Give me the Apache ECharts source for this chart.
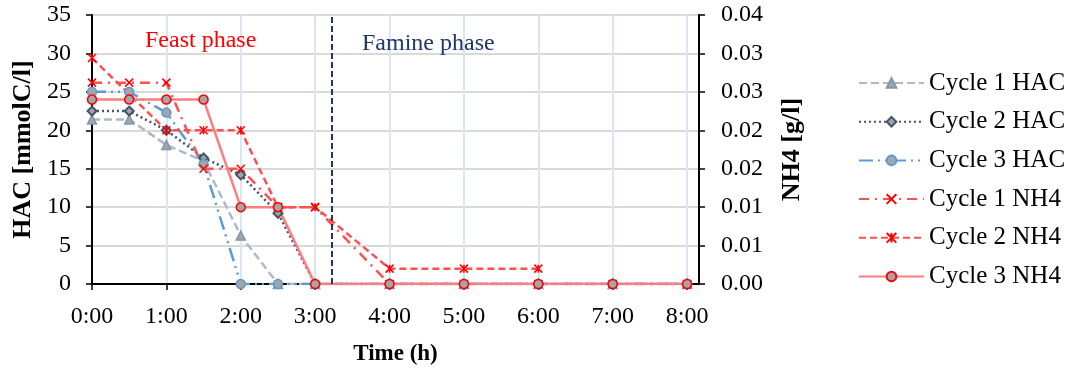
<!DOCTYPE html>
<html>
<head>
<meta charset="utf-8">
<script src="https://cdn.jsdelivr.net/npm/echarts@6/dist/echarts.min.js"></script>
<style>
html,body{margin:0;padding:0;background:#fff;}
#chart{width:1081px;height:375px;}
</style>
</head>
<body>
<div id="chart"></div>
<script>
// Time points (hours)
const times = [0, 0.5, 1, 1.5, 2, 2.5, 3, 4, 5, 6, 7, 8];
// HAC [mmolC/l]
const hacCycle1 = [21.4, 21.4, 18.1, 16.0, 6.3, 0, 0, 0, 0, 0, 0, 0];
const hacCycle2 = [22.5, 22.5, 20.0, 16.4, 14.2, 9.2, 0, 0, 0, 0, 0, 0];
const hacCycle3 = [25.0, 25.0, 22.3, 15.6, 0, 0, 0, 0, 0, 0, 0, 0];
// NH4 [g/l]
const nh4Cycle1 = [0.0262, 0.0262, 0.0262, 0.015, 0.015, 0.010, 0.010, 0, 0, 0, 0, 0];
const nh4Cycle2 = [0.0294, null, 0.020, 0.020, 0.020, 0.010, 0.010, 0.002, 0.002, 0.002, null, null];
const nh4Cycle3 = [0.024, 0.024, 0.024, 0.024, 0.010, 0.010, 0, 0, 0, 0, 0, 0];
// Phase boundary (hours)
const phaseBoundary = 3.22;
// Tick labels
const xTickLabels = ['0:00','1:00','2:00','3:00','4:00','5:00','6:00','7:00','8:00'];
const leftTickLabels = ['0','5','10','15','20','25','30','35'];
const rightTickLabels = ['0.00','0.01','0.01','0.02','0.02','0.03','0.03','0.04'];
const seriesNames = ['Cycle 1 HAC','Cycle 2 HAC','Cycle 3 HAC','Cycle 1 NH4','Cycle 2 NH4','Cycle 3 NH4'];

const FONT = 'Liberation Serif';
const pairs = arr => times.map((t, i) => [t, arr[i]]).filter(p => p[1] !== null);
const X_PATH = 'path://M0,0L10,10M10,0L0,10';
const AST_PATH = 'path://M0,0L10,10M10,0L0,10M5,0L5,10';

const chart = echarts.init(document.getElementById('chart'), null, {renderer: 'canvas'});
chart.setOption({
  animation: false,
  backgroundColor: '#fff',
  grid: {left: 92, right: 382, top: 15, bottom: 91, show: true, borderColor: '#000', borderWidth: 2, backgroundColor: 'transparent'},
  legend: {
    orient: 'vertical', left: 853, top: 65,
    itemWidth: 65, itemHeight: 12, itemGap: 12.7,
    textStyle: {fontFamily: FONT, fontSize: 25, color: '#000', lineHeight: 26, padding: [0,0,0,0]},
    data: seriesNames
  },
  graphic: [
    {type: 'text', z: 100, left: 145, top: 29, style: {text: 'Feast phase', font: '24px "Liberation Serif"', fill: '#ff0000'}},
    {type: 'text', z: 100, left: 362, top: 32, style: {text: 'Famine phase', font: '24px "Liberation Serif"', fill: '#1f3864'}}
  ],
  xAxis: {
    type: 'value', min: 0, max: 8.16, interval: 1,
    name: 'Time (h)', nameLocation: 'middle', nameGap: 59,
    nameTextStyle: {fontFamily: FONT, fontSize: 23, fontWeight: 'bold', color: '#000'},
    axisLine: {show: true, lineStyle: {color: '#000', width: 2}},
    axisTick: {show: true, length: 6, lineStyle: {color: '#000', width: 1.5}},
    axisLabel: {
      fontFamily: FONT, fontSize: 24, color: '#000', margin: 21, showMaxLabel: false,
      formatter: v => (Math.abs(v - Math.round(v)) < 1e-6 ? (xTickLabels[Math.round(v)] || '') : '')
    },
    splitLine: {show: true, lineStyle: {color: '#dae6f4', width: 2}}
  },
  yAxis: [
    {
      type: 'value', min: 0, max: 35, interval: 5,
      name: 'HAC [mmolC/l]', nameLocation: 'middle', nameGap: 54,
      nameTextStyle: {fontFamily: FONT, fontSize: 26, fontWeight: 'bold', color: '#000'},
      axisLine: {show: true, lineStyle: {color: '#000', width: 2}},
      axisTick: {show: true, length: 6, lineStyle: {color: '#000', width: 1.5}},
      axisLabel: {fontFamily: FONT, fontSize: 24, color: '#000', margin: 21,
        formatter: v => leftTickLabels[Math.round(v / 5)] || ''},
      splitLine: {show: true, lineStyle: {color: '#d9d9d9', width: 2}}
    },
    {
      type: 'value', min: 0, max: 0.035, interval: 0.005, position: 'right',
      name: 'NH4 [g/l]', nameLocation: 'middle', nameGap: 80,
      nameTextStyle: {fontFamily: FONT, fontSize: 26, fontWeight: 'bold', color: '#000'},
      axisLine: {show: true, lineStyle: {color: '#000', width: 2}},
      axisTick: {show: true, length: 6, lineStyle: {color: '#000', width: 1.5}},
      axisLabel: {fontFamily: FONT, fontSize: 24, color: '#000', margin: 22,
        formatter: v => rightTickLabels[Math.round(v / 0.005)] || ''},
      splitLine: {show: false}
    }
  ],
  series: [
    {
      name: seriesNames[0], type: 'line', yAxisIndex: 0, data: pairs(hacCycle1),
      symbol: 'triangle', symbolSize: 9,
      lineStyle: {color: '#adb9ca', width: 2.5, type: [8, 4]},
      itemStyle: {color: '#a5a5a5', borderColor: '#8497b0', borderWidth: 1.5},
      markLine: {
        silent: true, symbol: 'none', label: {show: false},
        lineStyle: {color: '#1f3864', width: 2, type: [6, 3]},
        data: [{xAxis: phaseBoundary}]
      }
    },
    {
      name: seriesNames[1], type: 'line', yAxisIndex: 0, data: pairs(hacCycle2),
      symbol: 'diamond', symbolSize: 9,
      lineStyle: {color: '#44546a', width: 2.5, type: [2, 3]},
      itemStyle: {color: '#a5a5a5', borderColor: '#44546a', borderWidth: 2}
    },
    {
      name: seriesNames[2], type: 'line', yAxisIndex: 0, data: pairs(hacCycle3),
      symbol: 'circle', symbolSize: 9,
      lineStyle: {color: '#5b9bd5', width: 2.5, type: [14, 5, 2, 5, 2, 5]},
      itemStyle: {color: '#a5a5a5', borderColor: '#5b9bd5', borderWidth: 1.5}
    },
    {
      name: seriesNames[3], type: 'line', yAxisIndex: 1, data: pairs(nh4Cycle1),
      symbol: X_PATH, symbolSize: 8,
      lineStyle: {color: '#ff5050', width: 2.5, type: [10, 6, 2, 6]},
      itemStyle: {color: '#ff0000', borderColor: '#ff0000', borderWidth: 1.5}
    },
    {
      name: seriesNames[4], type: 'line', yAxisIndex: 1, data: pairs(nh4Cycle2),
      symbol: AST_PATH, symbolSize: 8,
      lineStyle: {color: '#ff5050', width: 2.5, type: [7, 4]},
      itemStyle: {color: '#ff0000', borderColor: '#ff0000', borderWidth: 1.5}
    },
    {
      name: seriesNames[5], type: 'line', yAxisIndex: 1, data: pairs(nh4Cycle3),
      symbol: 'circle', symbolSize: 9,
      lineStyle: {color: '#ff7c80', width: 2.5, type: 'solid'},
      itemStyle: {color: '#a5a5a5', borderColor: '#ff0000', borderWidth: 1.5}
    }
  ]
});
</script>
</body>
</html>
